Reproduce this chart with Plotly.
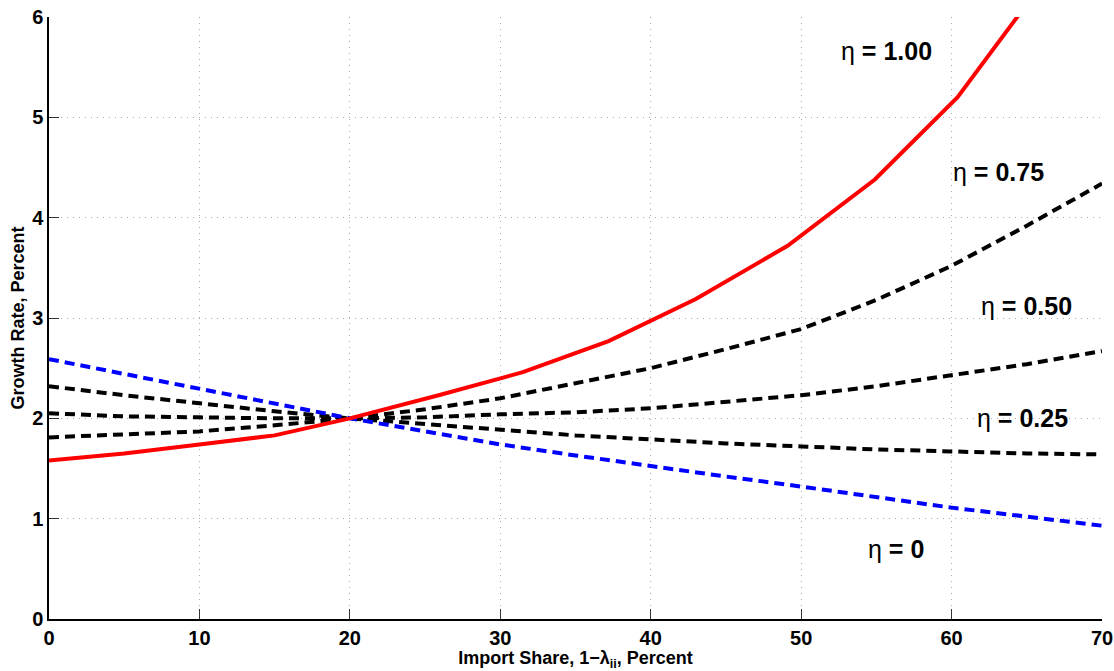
import plotly.graph_objects as go

# Red curve (eta = 1.00) vertices
x_red = [0, 5, 10, 15, 20, 25.9, 31.5, 37.2, 43.0, 49.1, 54.9, 60.4, 66.0]
y_eta100 = [1.58, 1.65, 1.74, 1.83, 2.0, 2.23, 2.46, 2.77, 3.19, 3.72, 4.38, 5.20, 6.33]

# Dashed curves
x_dash = [0, 5, 10, 15, 20, 25, 30, 35, 40, 45, 50, 55, 60, 65, 70]
y_eta075 = [1.81, 1.84, 1.87, 1.93, 2.0, 2.09, 2.20, 2.35, 2.50, 2.69, 2.89, 3.18, 3.52, 3.92, 4.34]
y_eta050 = [2.05, 2.02, 2.01, 2.00, 2.0, 2.01, 2.04, 2.06, 2.10, 2.16, 2.23, 2.32, 2.43, 2.54, 2.67]
y_eta025 = [2.32, 2.23, 2.15, 2.07, 2.0, 1.94, 1.88, 1.83, 1.79, 1.75, 1.72, 1.69, 1.67, 1.65, 1.64]
y_eta000 = [2.59, 2.44, 2.30, 2.15, 2.0, 1.87, 1.74, 1.63, 1.52, 1.42, 1.32, 1.21, 1.11, 1.02, 0.93]

label_values = ["1.00", "0.75", "0.50", "0.25", "0"]
label_x = [55.7, 63.1, 65.0, 64.7, 56.3]
label_y = [5.66, 4.46, 3.12, 2.00, 0.70]

x_ticks = [0, 10, 20, 30, 40, 50, 60, 70]
y_ticks = [0, 1, 2, 3, 4, 5, 6]

FONT = "Liberation Sans, Arial, Helvetica, sans-serif"
DASH = "10px,6px"

fig = go.Figure()
for y in [y_eta075, y_eta050, y_eta025]:
    fig.add_trace(go.Scatter(x=x_dash, y=y, mode="lines",
                             line=dict(color="black", width=4, dash=DASH),
                             showlegend=False, hoverinfo="skip"))
fig.add_trace(go.Scatter(x=x_dash, y=y_eta000, mode="lines",
                         line=dict(color="#0000ff", width=4, dash=DASH),
                         showlegend=False, hoverinfo="skip"))
fig.add_trace(go.Scatter(x=x_red, y=y_eta100, mode="lines",
                         line=dict(color="#ff0000", width=4),
                         showlegend=False, hoverinfo="skip"))

for v, lx, ly in zip(label_values, label_x, label_y):
    fig.add_annotation(x=lx, y=ly, text="η <b>= " + v + "</b>",
                       showarrow=False, xanchor="center", yanchor="middle",
                       font=dict(family=FONT, size=25, color="black"))

axis_common = dict(
    showline=True, linecolor="black", linewidth=1.5, mirror=False,
    ticks="inside", ticklen=10, tickwidth=1.2, tickcolor="#333",
    showgrid=True, gridcolor="#aaaaaa", griddash="1px,5px", gridwidth=1,
    zeroline=False, automargin=False,
    tickfont=dict(family=FONT, size=20, color="black"),
)

fig.update_xaxes(range=[0, 70], tickvals=x_ticks, ticktext=[f"<b>{v}</b>" for v in x_ticks],
                 title=dict(text="<b>Import Share, 1−λ<sub>ii</sub>, Percent</b>",
                            font=dict(family=FONT, size=18, color="black"), standoff=2),
                 **axis_common)
fig.update_yaxes(range=[0, 6], tickvals=y_ticks, ticktext=[f"<b>{v}</b>" for v in y_ticks],
                 title=dict(text="<b>Growth Rate, Percent</b>",
                            font=dict(family=FONT, size=18, color="black"), standoff=3),
                 **axis_common)

fig.update_layout(
    width=1114, height=671,
    margin=dict(l=49, r=12, t=17, b=52),
    plot_bgcolor="white", paper_bgcolor="white",
    font=dict(family=FONT, color="black"),
)

fig.write_html("out.html")
